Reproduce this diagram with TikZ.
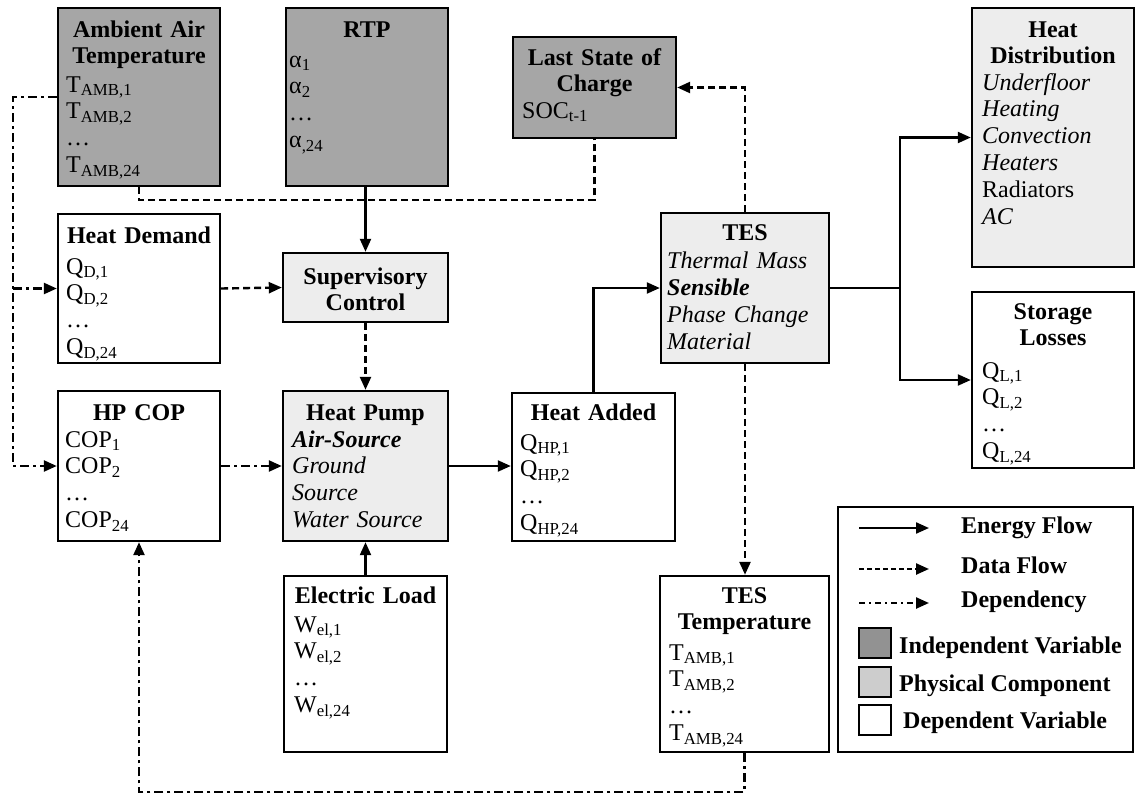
\documentclass[tikz,border=0pt]{standalone}
\usepackage{fontspec}
\setmainfont{Liberation Serif}
\usetikzlibrary{arrows.meta}
\definecolor{indep}{RGB}{166,166,166}
\definecolor{phys}{RGB}{237,237,237}
\definecolor{indepsw}{RGB}{146,146,146}
\definecolor{physsw}{RGB}{205,205,205}
\newcommand\mkbox[6]{\node[bx,#2,minimum width={(#5)-(#3)},minimum height={(#6)-(#4)}] (#1) at ({((#3)+(#5))/2},{((#4)+(#6))/2}) {};}
\begin{document}
\begin{tikzpicture}[x=1pt,y=-1pt,
  bx/.style={draw=black,line width=2.4pt,inner sep=0pt},
  ttl/.style={font=\fontsize{24}{26.5}\selectfont\bfseries,align=center,inner sep=0pt,anchor=base,text width=156pt},
  itm/.style={font=\fontsize{24}{26.8}\selectfont,align=left,inner sep=0pt,anchor=base west,text width=200pt},
  lg/.style={font=\fontsize{24}{27}\selectfont\bfseries,inner sep=0pt,anchor=base west},
  tip/.style={-{Triangle[length=13pt,width=11pt]}},
  energy/.style={line width=2.2pt,tip},
  data/.style={line width=2.4pt,dash pattern=on 7pt off 4pt,tip},
  dep/.style={line width=2.4pt,dash pattern=on 9pt off 4pt on 3pt off 4pt,tip},
  sw/.style={draw=black,line width=2.2pt,minimum width=32pt,minimum height=30pt,inner sep=0pt}
]
\useasboundingbox (0,0) rectangle (1135,795);

% ---------- boxes ----------
\mkbox{amb}{fill=indep}{58}{8}{220}{186}
\mkbox{rtp}{fill=indep}{286}{8}{448}{186}
\mkbox{lsoc}{fill=indep}{513}{37}{676}{138}
\mkbox{hdist}{fill=phys}{972}{8}{1134}{267}
\mkbox{hdem}{fill=white}{58}{214}{220}{363}
\mkbox{sup}{fill=phys}{283}{253}{448}{322}
\mkbox{tes}{fill=phys}{661}{213}{829}{363}
\mkbox{sloss}{fill=white}{972}{292}{1134}{468}
\mkbox{hpcop}{fill=white}{58}{391}{220}{541}
\mkbox{hp}{fill=phys}{283}{391}{448}{541}
\mkbox{hadd}{fill=white}{512}{393}{675}{541}
\mkbox{eload}{fill=white}{284}{576}{447}{752}
\mkbox{testemp}{fill=white}{660}{576}{829}{752}
\mkbox{legend}{fill=white}{838}{507}{1133}{752}

% ---------- texts ----------
\node[ttl] (amb-t) at (139,37) {Ambient Air\\Temperature};
\node[itm] (amb-i) at (66,92) {T\textsubscript{AMB,1}\\T\textsubscript{AMB,2}\\…\\T\textsubscript{AMB,24}};

\node[ttl] (rtp-t) at (367,37) {RTP};
\node[itm] (rtp-i) at (289,67) {α\textsubscript{1}\\α\textsubscript{2}\\…\\α\textsubscript{,24}};

\node[ttl] (lsoc-t) at (594.5,65) {Last State of\\Charge};
\node[itm] (lsoc-i) at (522,118) {SOC\textsubscript{t-1}};

\node[ttl] (hdist-t) at (1053,37) {Heat\\Distribution};
\node[itm] (hdist-i) at (982,90) {\textit{Underfloor}\\\textit{Heating}\\\textit{Convection}\\\textit{Heaters}\\Radiators\\\textit{AC}};

\node[ttl] (hdem-t) at (139,243) {Heat Demand};
\node[itm] (hdem-i) at (66,274) {Q\textsubscript{D,1}\\Q\textsubscript{D,2}\\…\\Q\textsubscript{D,24}};

\node[ttl] (sup-t) at (365.5,284) {Supervisory\\Control};

\node[ttl] (tes-t) at (745,240) {TES};
\node[itm,font=\fontsize{24}{27.3}\selectfont] (tes-i) at (667,268) {\textit{Thermal Mass}\\\textbf{\textit{Sensible}}\\\textit{Phase Change}\\\textit{Material}};

\node[ttl] (sloss-t) at (1053,319) {Storage\\Losses};
\node[itm] (sloss-i) at (982,378) {Q\textsubscript{L,1}\\Q\textsubscript{L,2}\\…\\Q\textsubscript{L,24}};

\node[ttl] (hpcop-t) at (139,420) {HP COP};
\node[itm] (hpcop-i) at (65,447) {COP\textsubscript{1}\\COP\textsubscript{2}\\…\\COP\textsubscript{24}};

\node[ttl] (hp-t) at (365.5,420) {Heat Pump};
\node[itm] (hp-i) at (292,447) {\textbf{\textit{Air-Source}}\\\textit{Ground}\\\textit{Source}\\\textit{Water Source}};

\node[ttl] (hadd-t) at (593.5,420) {Heat Added};
\node[itm] (hadd-i) at (520,450) {Q\textsubscript{HP,1}\\Q\textsubscript{HP,2}\\…\\Q\textsubscript{HP,24}};

\node[ttl] (eload-t) at (365.5,603) {Electric Load};
\node[itm] (eload-i) at (294,632) {W\textsubscript{el,1}\\W\textsubscript{el,2}\\…\\W\textsubscript{el,24}};

\node[ttl] (testemp-t) at (744.5,603) {TES\\Temperature};
\node[itm] (testemp-i) at (669,660) {T\textsubscript{AMB,1}\\T\textsubscript{AMB,2}\\…\\T\textsubscript{AMB,24}};

% ---------- connectors ----------
\coordinate (dl1) at (13,97);
\coordinate (dl2) at (13,288.5);
\draw[dep] (amb.west) -- (dl1) |- (hpcop.west);
\draw[dep] (dl2) -- (hdem.west);

\coordinate (bus) at (366,200);
\draw[data,-] (amb.south) |- (bus) -| (lsoc.south);
\draw[energy] (rtp.south -| sup.north) -- (sup.north);

\draw[data] (hdem.east) -- (sup.west);
\draw[data] (sup.south) -- (hp.north);
\draw[dep] (hpcop.east) -- (hp.west);
\draw[energy] (hp.east) -- (hp.east -| hadd.west);
\draw[energy] (hadd.north) |- (tes.west);
\draw[data] (tes.north) |- (lsoc.east);
\coordinate (tb) at (900,288);
\draw[energy,-] (tes.east) -- (tb);
\draw[energy] (tb) |- (hdist.west);
\draw[energy] (tb) |- (sloss.west);
\draw[data] (tes.south) -- (tes.south |- testemp.north);
\draw[energy] (eload.north) -- (eload.north |- hp.south);
\coordinate (bot) at (744.5,792);
\draw[dep] (testemp.south) -- (bot) -| (hpcop.south);

% ---------- legend ----------
\coordinate (le1) at (859,528); \coordinate (le2) at (929,528);
\coordinate (ld1) at (859,569); \coordinate (ld2) at (929,569);
\coordinate (lp1) at (859,603); \coordinate (lp2) at (929,603);
\draw[energy] (le1) -- (le2);
\draw[data,dash pattern=on 5pt off 3pt] (ld1) -- (ld2);
\draw[dep,dash pattern=on 6pt off 4pt on 2pt off 4pt] (lp1) -- (lp2);
\node[lg] (lg-e) at (961,533) {Energy Flow};
\node[lg] (lg-d) at (961,573) {Data Flow};
\node[lg] (lg-p) at (961,607) {Dependency};
\node[sw,fill=indepsw] (sw1) at (875,643) {};
\node[sw,fill=physsw] (sw2) at (875,682) {};
\node[sw,fill=white] (sw3) at (875,720) {};
\node[lg] (lg-i) at (899,653) {Independent Variable};
\node[lg] (lg-c) at (899,691) {Physical Component};
\node[lg] (lg-v) at (903,728) {Dependent Variable};
\end{tikzpicture}
\end{document}
